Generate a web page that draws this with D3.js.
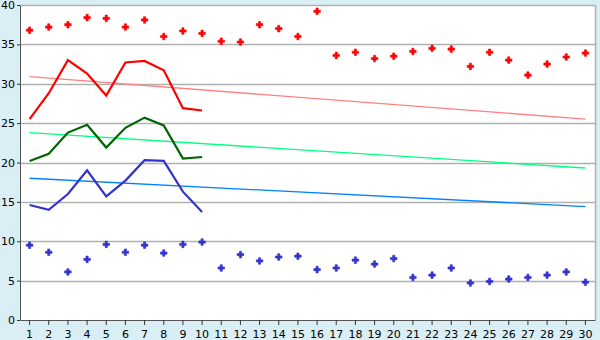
<!DOCTYPE html>
<html>
<head>
<meta charset="utf-8">
<script src="https://cdn.jsdelivr.net/npm/d3@7"></script>
<style>
  body { margin: 0; background: #daeef5; }
  svg { display: block; }
  text { font-family: "DejaVu Sans", Verdana, sans-serif; font-size: 11px; fill: #000; }
</style>
</head>
<body>
<div id="wrapper"></div>
<script>
// data
const days = d3.range(1, 31)
const maxDots = [36.8, 37.2, 37.5, 38.4, 38.3, 37.2, 38.1, 36.0, 36.7, 36.4,
    35.4, 35.3, 37.5, 37.0, 36.0, 39.2, 33.6, 34.0, 33.2, 33.5,
    34.1, 34.5, 34.4, 32.2, 34.0, 33.0, 31.1, 32.5, 33.4, 33.9]
const minDots = [9.5, 8.6, 6.1, 7.7, 9.6, 8.6, 9.5, 8.5, 9.6, 9.9,
    6.6, 8.3, 7.5, 8.0, 8.1, 6.4, 6.6, 7.6, 7.1, 7.8,
    5.4, 5.7, 6.6, 4.7, 4.9, 5.2, 5.4, 5.7, 6.1, 4.8]
const maxLine = [25.5, 28.8, 33.0, 31.3, 28.5, 32.7, 32.9, 31.7, 26.9, 26.6]
const meanLine = [20.2, 21.1, 23.8, 24.8, 21.9, 24.4, 25.7, 24.7, 20.5, 20.7]
const minLine = [14.6, 14.0, 16.0, 19.0, 15.7, 17.7, 20.3, 20.2, 16.3, 13.7]
// trend lines: value at day 1 and day 30
const maxTrend = [30.9, 25.5]
const meanTrend = [23.8, 19.3]
const minTrend = [18.0, 14.4]
const yTicks = [0, 5, 10, 15, 20, 25, 30, 35, 40]

const dimensions = {
    width: 600,
    height: 340,
    margin: { top: 5, right: 5, bottom: 20, left: 20 },
}
dimensions.boundedWidth = dimensions.width - dimensions.margin.left - dimensions.margin.right
dimensions.boundedHeight = dimensions.height - dimensions.margin.top - dimensions.margin.bottom

const wrapper = d3.select("#wrapper")
    .append("svg")
    .attr("width", dimensions.width)
    .attr("height", dimensions.height)

const bounds = wrapper.append("g")
    .attr("transform", `translate(${dimensions.margin.left},${dimensions.margin.top})`)

bounds.append("rect")
    .attr("width", dimensions.boundedWidth)
    .attr("height", dimensions.boundedHeight)
    .attr("fill", "#fff")

const xScale = d3.scaleBand()
    .domain(days)
    .range([0, dimensions.boundedWidth])
const xPos = d => xScale(d) + xScale.bandwidth() / 2

const yScale = d3.scaleLinear()
    .domain([0, 40])
    .range([dimensions.boundedHeight, 0])

// grid
bounds.selectAll(".grid")
    .data(yTicks.slice(1))
    .join("line")
    .attr("x1", 0)
    .attr("x2", dimensions.boundedWidth)
    .attr("y1", d => Math.round(yScale(d)) + 0.5)
    .attr("y2", d => Math.round(yScale(d)) + 0.5)
    .attr("stroke", "#b0b0b0")
    .attr("stroke-width", 1.5)

bounds.append("line")
    .attr("x1", dimensions.boundedWidth + 0.5)
    .attr("x2", dimensions.boundedWidth + 0.5)
    .attr("y1", 0)
    .attr("y2", dimensions.boundedHeight)
    .attr("stroke", "#b0b0b0")
    .attr("stroke-width", 1.5)

// trend lines
const trends = [
    { v: maxTrend, color: "#ff8080" },
    { v: meanTrend, color: "#00ff80" },
    { v: minTrend, color: "#0080ff" },
]
bounds.selectAll(".trend")
    .data(trends)
    .join("line")
    .attr("x1", xPos(1))
    .attr("x2", xPos(30))
    .attr("y1", d => yScale(d.v[0]))
    .attr("y2", d => yScale(d.v[1]))
    .attr("stroke", d => d.color)
    .attr("stroke-width", 1.3)

// lines
const lineGen = d3.line()
    .x((d, i) => xPos(days[i]))
    .y(d => yScale(d))

const lines = [
    { v: maxLine, color: "#ff0000" },
    { v: meanLine, color: "#006400" },
    { v: minLine, color: "#3333cc" },
]
bounds.selectAll(".series")
    .data(lines)
    .join("path")
    .attr("d", d => lineGen(d.v))
    .attr("fill", "none")
    .attr("stroke", d => d.color)
    .attr("stroke-width", 2.2)

// dots
const cross = d3.symbol().type(d3.symbolCross).size(24)
const dotSets = [
    { v: maxDots, color: "#ff0000" },
    { v: minDots, color: "#3333cc" },
]
dotSets.forEach(set => {
    bounds.selectAll(null)
        .data(set.v)
        .join("path")
        .attr("d", cross)
        .attr("transform", (d, i) => `translate(${xPos(days[i])},${yScale(d)})`)
        .attr("fill", set.color)
        .attr("stroke", set.color)
        .attr("stroke-width", 0.6)
})

// axes
const xAxisGenerator = d3.axisBottom(xScale)
    .tickSize(5)
    .tickSizeOuter(0)
const xAxis = bounds.append("g")
    .attr("transform", `translate(0,${dimensions.boundedHeight})`)
    .call(xAxisGenerator)
xAxis.select(".domain").attr("stroke", "#555")
xAxis.selectAll(".tick line").attr("stroke", "#333")
xAxis.selectAll(".tick text").attr("dy", "0.9em").style("font-size", "11px")
    .style("font-family", "'DejaVu Sans', sans-serif")

const yAxisGenerator = d3.axisLeft(yScale)
    .tickValues(yTicks)
    .tickSize(3)
    .tickSizeOuter(0)
const yAxis = bounds.append("g")
    .call(yAxisGenerator)
yAxis.select(".domain").attr("stroke", "#555")
yAxis.selectAll(".tick line").attr("stroke", "#333")
yAxis.selectAll(".tick text").attr("x", -5).style("font-size", "11px")
    .style("font-family", "'DejaVu Sans', sans-serif")
</script>
</body>
</html>
